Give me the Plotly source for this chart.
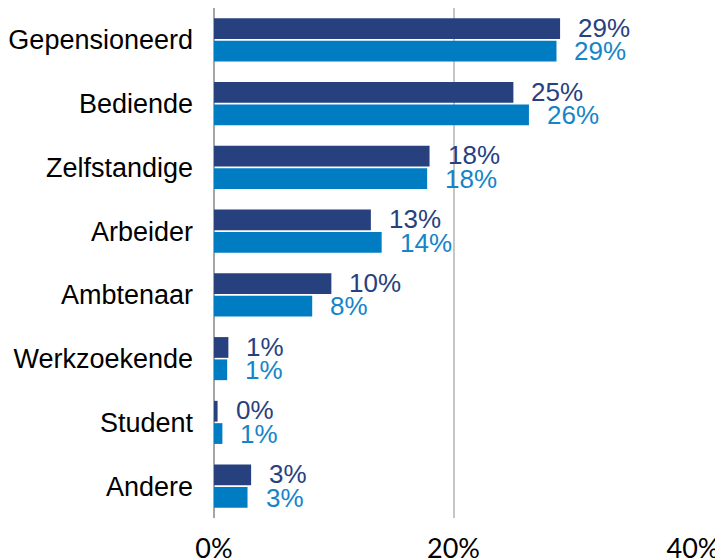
import plotly.graph_objects as go

categories = [
    "Gepensioneerd",
    "Bediende",
    "Zelfstandige",
    "Arbeider",
    "Ambtenaar",
    "Werkzoekende",
    "Student",
    "Andere",
]
series_a = [28.9, 25.0, 18.0, 13.1, 9.8, 1.2, 0.3, 3.1]
series_b = [28.6, 26.3, 17.8, 14.0, 8.2, 1.1, 0.7, 2.8]
tick_vals = [0, 20, 40]
tick_text = ["0%", "20%", "40%"]

dark = "#27417F"
light = "#007CC3"

fig = go.Figure()
fig.add_trace(go.Bar(y=categories, x=series_a, orientation="h",
                     marker=dict(color=dark, line_width=0), name="A"))
fig.add_trace(go.Bar(y=categories, x=series_b, orientation="h",
                     marker=dict(color=light, line_width=0), name="B"))

# value labels next to the bar ends
for vals, col, shift in [(series_a, dark, 12), (series_b, "#1485C8", -11.5)]:
    for cat, v in zip(categories, vals):
        fig.add_annotation(
            x=v, y=cat, text=f"{v:.0f}%", showarrow=False,
            xanchor="left", yanchor="middle", xshift=16, yshift=shift,
            font=dict(family="Liberation Sans, Arial", size=26, color=col),
        )

# the page body adds an 8px offset, so the figure is 8px smaller
fig.update_layout(
    width=715,
    height=552,
    barmode="group",
    bargap=0.3,
    bargroupgap=0.07,
    showlegend=False,
    plot_bgcolor="white",
    paper_bgcolor="white",
    margin=dict(l=206, r=30, t=0, b=42, autoexpand=False),
    font=dict(family="Liberation Sans, Arial", size=26, color="black"),
)
fig.update_xaxes(
    range=[0, 40],
    tickvals=tick_vals,
    ticktext=tick_text,
    showgrid=True,
    gridcolor="#C6C6C6",
    gridwidth=2,
    zeroline=True,
    zerolinecolor="#A6A6A6",
    zerolinewidth=2,
    ticks="",
    automargin=False,
    ticklabelstandoff=12,
    tickfont=dict(family="Lato, Liberation Sans", size=27, color="black"),
    fixedrange=True,
)
fig.update_yaxes(
    autorange="reversed",
    showgrid=False,
    ticks="",
    automargin=False,
    ticklabelstandoff=20,
    tickfont=dict(family="Liberation Sans, Arial", size=27, color="black"),
    fixedrange=True,
)

fig.write_html("out.html", config={"displayModeBar": False})
